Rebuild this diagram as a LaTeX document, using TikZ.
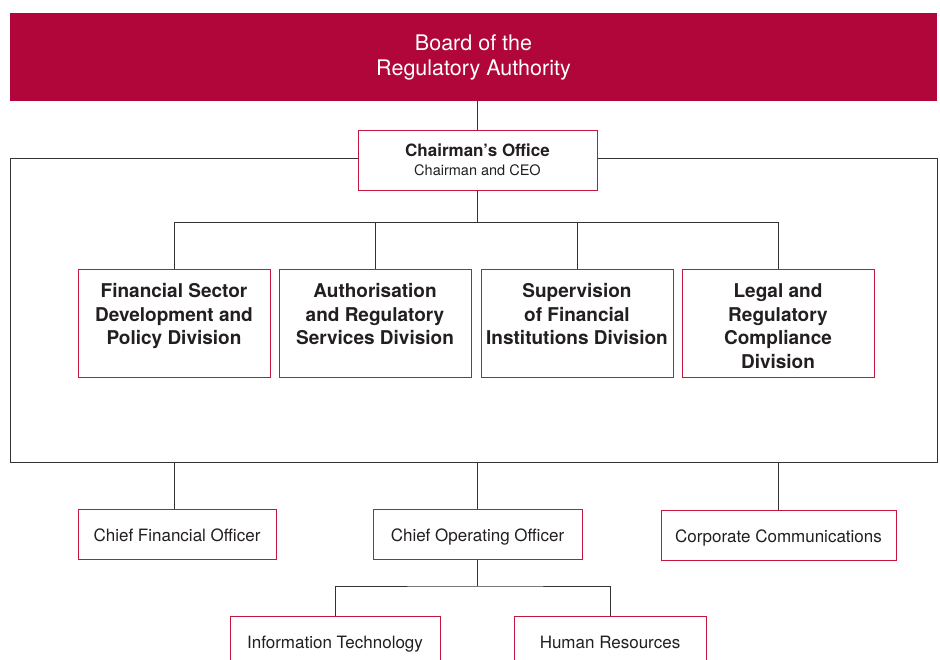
\documentclass[tikz,border=0pt]{standalone}
\usepackage{fontspec}
\setmainfont{TeX Gyre Heros}
\usetikzlibrary{positioning}
\definecolor{boardred}{RGB}{176,6,58}
\definecolor{boxred}{RGB}{196,22,62}
\definecolor{linegray}{RGB}{51,51,51}
\definecolor{txtgray}{RGB}{35,31,32}
% division labels sit near the top of their boxes
\newcommand{\divlabel}[1]{\parbox[c][108pt][t]{188pt}{\centering\fontsize{19}{23.5}\selectfont\bfseries\rule{0pt}{28.5pt}#1}}

\begin{document}
\begin{tikzpicture}[x=1pt,y=-1pt,
  box/.style={draw=boxred,line width=1pt,fill=white,inner sep=0pt,text=txtgray,align=center},
  divbox/.style={box,minimum width=192pt,minimum height=108pt},
  staffbox/.style={box,minimum height=50pt,text height=16pt,text depth=2pt,font=\fontsize{17}{20}\selectfont},
  link/.style={draw=linegray,line width=1pt}]
  \clip (0,0) rectangle (940,659);
  \node[fill=boardred,inner sep=0pt,minimum width=927pt,minimum height=88pt,text=white,align=center,
    font=\fontsize{21.5}{25}\selectfont] (board) at (473.5,57) {Board of the\\Regulatory Authority};
  \node[link,inner sep=0pt,minimum width=927pt,minimum height=304pt] (frame) at (473.5,310) {};
  \node[box,minimum width=239pt,minimum height=60pt,font=\fontsize{14.5}{19}\selectfont] (chair) at (477.5,160)
    {{\fontsize{17}{19}\selectfont\bfseries Chairman’s Office}\\Chairman and CEO};

  % divisions
  \node[divbox] (fsd) at (174,323) {\divlabel{Financial Sector\\Development and\\Policy Division}};
  \node[divbox] (auth) at (375,323) {\divlabel{Authorisation\\and Regulatory\\Services Division}};
  \node[divbox] (supv) at (577,323) {\divlabel{Supervision\\of Financial\\Institutions Division}};
  \node[divbox] (legal) at (778,323) {\divlabel{Legal and\\Regulatory\\Compliance\\Division}};

  % officers
  \node[staffbox,minimum width=198pt] (cfo) at (177,534) {Chief Financial Officer};
  \node[staffbox,minimum width=209pt] (coo) at (477.5,534.5) {Chief Operating Officer};
  \node[staffbox,minimum width=235pt] (comms) at (778.5,535.5) {Corporate Communications};
  \node[staffbox,minimum width=210pt] (it) at (335,641) {Information Technology};
  \node[staffbox,minimum width=192pt] (hr) at (610,641) {Human Resources};

  \draw[link] (board.south -| chair.north) -- (chair.north);
  \draw[link] (chair.south) -- ++(0,32) coordinate (divbar);
  \draw[link] (fsd.north) |- (divbar) -| (legal.north);
  \draw[link] (divbar -| auth.north) -- (auth.north);
  \draw[link] (divbar -| supv.north) -- (supv.north);
  \draw[link] (frame.south -| fsd.north) -- (cfo.north -| fsd.north);
  \draw[link] (frame.south -| chair.south) -- (coo.north);
  \draw[link] (frame.south -| legal.north) -- (comms.north -| legal.north);
  \draw[link] (coo.south) -- ++(0,26) coordinate (itbar);
  \draw[link] (it.north) |- (itbar) -| (hr.north);
\end{tikzpicture}
\end{document}
